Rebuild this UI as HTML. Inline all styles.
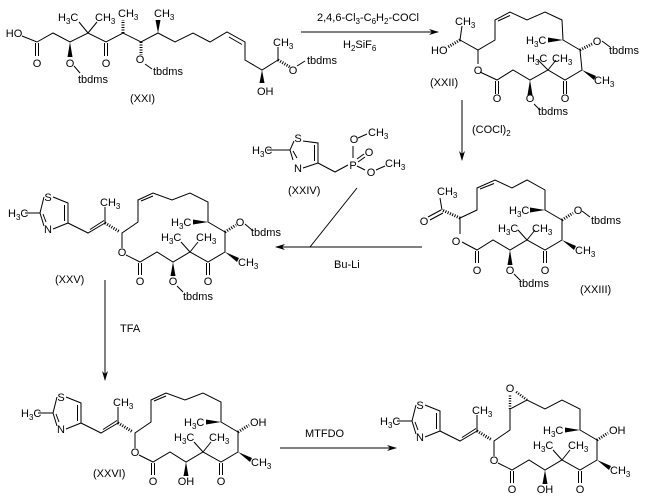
<!DOCTYPE html>
<html><head><meta charset="utf-8"><style>
html,body{margin:0;padding:0;background:#fff;}
svg{display:block;}
text{font-family:"Liberation Sans",Arial,sans-serif;font-size:11px;fill:#000;}
.s{font-size:8px;}
</style></head><body>
<svg width="648" height="501" viewBox="0 0 648 501" xmlns="http://www.w3.org/2000/svg">
<defs>
<marker id="ah" markerWidth="10" markerHeight="6" refX="9" refY="3" orient="auto" markerUnits="userSpaceOnUse"><path d="M0,0 L10,3 L0,6 L3,3 Z" fill="#000"/></marker>
</defs>
<g stroke="#000" stroke-width="1" fill="none">
<polyline points="22,36 37,42 53,33 70,42 88,33 106,42 123,33 141,42 158,33 175,42 193,33 210,42 227,32 245,42 245,60 262,70 278,60"/>
<line x1="229" y1="37" x2="242" y2="44.5"/>
<line x1="35.5" y1="43" x2="35.5" y2="56"/><line x1="38.5" y1="43" x2="38.5" y2="56"/>
<line x1="104.5" y1="43" x2="104.5" y2="56"/><line x1="107.5" y1="43" x2="107.5" y2="56"/>
<line x1="88" y1="33" x2="79" y2="22"/><line x1="88" y1="33" x2="97" y2="22"/>
<line x1="123" y1="33" x2="123" y2="20" stroke-width="3" stroke-dasharray="1,1.5"/>
<line x1="141" y1="42" x2="141" y2="55" stroke-width="3" stroke-dasharray="1,1.5"/>
<line x1="145" y1="64" x2="152" y2="69"/>
<line x1="74" y1="66" x2="80" y2="73"/>
<line x1="278" y1="60" x2="278" y2="47"/>
<line x1="278" y1="60" x2="290" y2="67" stroke-width="3" stroke-dasharray="1,1.5"/>
<line x1="297" y1="66" x2="305" y2="61"/>
<line x1="301" y1="32" x2="438" y2="32" marker-end="url(#ah)"/>
<line x1="460" y1="40" x2="462" y2="26"/>
<line x1="460" y1="40" x2="448" y2="47" stroke-width="3" stroke-dasharray="1,1.5"/>
<polyline points="460,40 478,50 495,40 495,20 510,12 527,20 545,12 562,20 563,40 580,50 582,70 565,80 548,70 530,80 513,70 497,80 480,72"/>
<line x1="478" y1="50" x2="478" y2="64"/>
<line x1="498" y1="21" x2="510" y2="15.5"/>
<line x1="495.5" y1="81" x2="495.5" y2="94"/><line x1="498.5" y1="81" x2="498.5" y2="94"/>
<line x1="563.5" y1="81" x2="563.5" y2="94"/><line x1="566.5" y1="81" x2="566.5" y2="94"/>
<line x1="548" y1="70" x2="538" y2="60"/><line x1="548" y1="70" x2="556" y2="60"/>
<line x1="580" y1="50" x2="592" y2="44" stroke-width="3" stroke-dasharray="1,1.5"/>
<line x1="602" y1="41" x2="610" y2="47"/>
<line x1="534" y1="104" x2="540" y2="110"/>
<line x1="462" y1="100" x2="462" y2="160" marker-end="url(#ah)"/>
<polyline points="460,218 477,210 477,188 495,180 512,188 527,180 545,190 545,210 562,220 562,240 545,250 527,240 510,250 493,240 477,250 462,242"/>
<line x1="460" y1="218" x2="460" y2="234"/>
<line x1="480" y1="189" x2="494" y2="183.5"/>
<line x1="460" y1="218" x2="442" y2="210" stroke-width="3" stroke-dasharray="1,1.5"/>
<line x1="442" y1="210" x2="440" y2="198"/>
<line x1="441" y1="210" x2="428" y2="217"/><line x1="443" y1="213" x2="430" y2="220"/>
<line x1="543.5" y1="251" x2="543.5" y2="263"/><line x1="546.5" y1="251" x2="546.5" y2="263"/>
<line x1="475.5" y1="251" x2="475.5" y2="263"/><line x1="478.5" y1="251" x2="478.5" y2="263"/>
<line x1="527" y1="240" x2="518" y2="230"/><line x1="527" y1="240" x2="535" y2="230"/>
<line x1="562" y1="220" x2="573" y2="213" stroke-width="3" stroke-dasharray="1,1.5"/>
<line x1="582" y1="211" x2="590" y2="217"/>
<line x1="514" y1="274" x2="520" y2="280"/>
<line x1="422" y1="247" x2="276" y2="247" marker-end="url(#ah)"/>
<line x1="310" y1="247" x2="357" y2="188"/>
<polyline points="303,141 318,143 318,163 303,168"/>
<polyline points="294,141 290,150 293,160"/>
<line x1="290" y1="150" x2="267" y2="150"/>
<line x1="293" y1="151" x2="297" y2="158"/>
<line x1="314.5" y1="145" x2="314.5" y2="161"/>
<polyline points="318,163 335,172 348,165"/>
<line x1="353" y1="158" x2="353" y2="146"/>
<line x1="357" y1="159" x2="364" y2="154"/><line x1="358" y1="162" x2="365" y2="157"/>
<line x1="357" y1="166" x2="365" y2="170"/>
<line x1="358" y1="138" x2="367" y2="134"/><line x1="376" y1="170" x2="385" y2="166"/>
<line x1="105" y1="280" x2="105" y2="380" marker-end="url(#ah)"/>
<line x1="280" y1="448" x2="396" y2="448" marker-end="url(#ah)"/>
</g>
<g fill="#000">
<polygon points="70,42 67.5,57 72.5,57"/>
<polygon points="158,33 155.5,20 160.5,20"/>
<polygon points="262,70 259.5,83 264.5,83"/>
<polygon points="530,80 527.5,95 532.5,95"/>
<polygon points="582,70 596,76 594,80"/>
<polygon points="563,40 548,37.5 548,42.5"/>
<polygon points="510,250 507.5,265 512.5,265"/>
<polygon points="562,240 576,246 574,250"/>
<polygon points="545,210 530,207.5 530,212.5"/>
</g>
<text x="14" y="37" text-anchor="middle">HO</text>
<text x="37" y="67" text-anchor="middle">O</text>
<text x="106" y="67" text-anchor="middle">O</text>
<text x="70" y="67" text-anchor="middle">O</text>
<text x="78" y="83">tbdms</text>
<text x="140" y="63" text-anchor="middle">O</text>
<text x="153" y="75">tbdms</text>
<text x="58" y="21">H<tspan class="s" dy="3">3</tspan><tspan dy="-3">C</tspan></text>
<text x="95" y="21">CH<tspan class="s" dy="3">3</tspan></text>
<text x="118" y="17">CH<tspan class="s" dy="3">3</tspan></text>
<text x="154" y="17">CH<tspan class="s" dy="3">3</tspan></text>
<text x="273" y="46">CH<tspan class="s" dy="3">3</tspan></text>
<text x="293" y="74" text-anchor="middle">O</text>
<text x="307" y="64">tbdms</text>
<text x="257" y="95">OH</text>
<text x="130" y="102">(XXI)</text>
<text x="317" y="21">2,4,6-Cl<tspan class="s" dy="3">3</tspan><tspan dy="-3">-C</tspan><tspan class="s" dy="3">6</tspan><tspan dy="-3">H</tspan><tspan class="s" dy="3">2</tspan><tspan dy="-3">-COCl</tspan></text>
<text x="343" y="48">H<tspan class="s" dy="3">2</tspan><tspan dy="-3">SiF</tspan><tspan class="s" dy="3">6</tspan></text>
<text x="455" y="25">CH<tspan class="s" dy="3">3</tspan></text>
<text x="431" y="54">HO</text>
<text x="478" y="74" text-anchor="middle">O</text>
<text x="497" y="102" text-anchor="middle">O</text>
<text x="565" y="102" text-anchor="middle">O</text>
<text x="530" y="102" text-anchor="middle">O</text>
<text x="538" y="115">tbdms</text>
<text x="527" y="62">H<tspan class="s" dy="3">3</tspan><tspan dy="-3">C</tspan></text>
<text x="552" y="62">CH<tspan class="s" dy="3">3</tspan></text>
<text x="526" y="44">H<tspan class="s" dy="3">3</tspan><tspan dy="-3">C</tspan></text>
<text x="597" y="45" text-anchor="middle">O</text>
<text x="609" y="54">tbdms</text>
<text x="594" y="84">CH<tspan class="s" dy="3">3</tspan></text>
<text x="430" y="86">(XXII)</text>
<text x="472" y="133">(COCl)<tspan class="s" dy="3">2</tspan></text>
<text x="437" y="195">CH<tspan class="s" dy="3">3</tspan></text>
<text x="424" y="225" text-anchor="middle">O</text>
<text x="456" y="245" text-anchor="middle">O</text>
<text x="477" y="274" text-anchor="middle">O</text>
<text x="545" y="274" text-anchor="middle">O</text>
<text x="510" y="274" text-anchor="middle">O</text>
<text x="519" y="287">tbdms</text>
<text x="498" y="232">H<tspan class="s" dy="3">3</tspan><tspan dy="-3">C</tspan></text>
<text x="532" y="232">CH<tspan class="s" dy="3">3</tspan></text>
<text x="509" y="214">H<tspan class="s" dy="3">3</tspan><tspan dy="-3">C</tspan></text>
<text x="578" y="214" text-anchor="middle">O</text>
<text x="591" y="224">tbdms</text>
<text x="575" y="254">CH<tspan class="s" dy="3">3</tspan></text>
<text x="580" y="293">(XXIII)</text>
<text x="334" y="268">Bu-Li</text>
<text x="298" y="142" text-anchor="middle">S</text>
<text x="298" y="172" text-anchor="middle">N</text>
<text x="252" y="154">H<tspan class="s" dy="3">3</tspan><tspan dy="-3">C</tspan></text>
<text x="353" y="169" text-anchor="middle">P</text>
<text x="354" y="143" text-anchor="middle">O</text>
<text x="369" y="156" text-anchor="middle">O</text>
<text x="371" y="176" text-anchor="middle">O</text>
<text x="368" y="136">CH<tspan class="s" dy="3">3</tspan></text>
<text x="385" y="167">CH<tspan class="s" dy="3">3</tspan></text>
<text x="288" y="194">(XXIV)</text>
<text x="120" y="332">TFA</text>
<text x="305" y="437">MTFDO</text>

<g>
<g stroke="#000" stroke-width="1" fill="none">
<polyline points="53,197 68,203 68,223 53,229"/>
<polyline points="44,197 40,213 44,226"/>
<line x1="40" y1="213" x2="25" y2="213"/>
<line x1="43" y1="214" x2="46" y2="222"/>
<line x1="64.5" y1="205" x2="64.5" y2="221"/>
<polyline points="68,223 88,233 105,223"/>
<line x1="90" y1="229.5" x2="104" y2="220.5"/>
<line x1="105" y1="223" x2="105" y2="207"/>
<line x1="105" y1="223" x2="120" y2="232" stroke-width="3" stroke-dasharray="1,1.5"/>
<polyline points="122,248 122,233 138,222 138,200 153,193 172,200 190,193 208,202 208,222 225,232 225,252 208,262 190,252 173,262 157,252 140,262 126,255"/>
<line x1="141" y1="201" x2="153" y2="196"/>
<line x1="206.5" y1="263" x2="206.5" y2="275"/><line x1="209.5" y1="263" x2="209.5" y2="275"/>
<line x1="138.5" y1="263" x2="138.5" y2="275"/><line x1="141.5" y1="263" x2="141.5" y2="275"/>
<line x1="190" y1="252" x2="181" y2="242"/><line x1="190" y1="252" x2="198" y2="242"/>
<line x1="225" y1="232" x2="236" y2="225" stroke-width="3" stroke-dasharray="1,1.5"/>
</g>
<g fill="#000">
<polygon points="173,262 170.5,276 175.5,276"/>
<polygon points="225,252 239,258 237,262"/>
<polygon points="208,222 193,219.5 193,224.5"/>
</g>
<text x="48" y="201" text-anchor="middle">S</text>
<text x="48" y="233" text-anchor="middle">N</text>
<text x="8" y="217">H<tspan class="s" dy="3">3</tspan><tspan dy="-3">C</tspan></text>
<text x="100" y="206">CH<tspan class="s" dy="3">3</tspan></text>
<text x="122" y="256" text-anchor="middle">O</text>
<text x="140" y="285" text-anchor="middle">O</text>
<text x="208" y="285" text-anchor="middle">O</text>
<text x="161" y="241">H<tspan class="s" dy="3">3</tspan><tspan dy="-3">C</tspan></text>
<text x="196" y="241">CH<tspan class="s" dy="3">3</tspan></text>
<text x="171" y="226">H<tspan class="s" dy="3">3</tspan><tspan dy="-3">C</tspan></text>
<text x="238" y="266">CH<tspan class="s" dy="3">3</tspan></text>
</g>
<text x="173" y="285" text-anchor="middle">O</text>
<line x1="177" y1="286" x2="183" y2="292" stroke="#000"/>
<text x="183" y="300">tbdms</text>
<text x="240" y="226" text-anchor="middle">O</text>
<line x1="245" y1="224" x2="252" y2="230" stroke="#000"/>
<text x="251" y="236">tbdms</text>
<text x="55" y="283">(XXV)</text>

<g transform="translate(13,200)">
<g stroke="#000" stroke-width="1" fill="none">
<polyline points="53,197 68,203 68,223 53,229"/>
<polyline points="44,197 40,213 44,226"/>
<line x1="40" y1="213" x2="25" y2="213"/>
<line x1="43" y1="214" x2="46" y2="222"/>
<line x1="64.5" y1="205" x2="64.5" y2="221"/>
<polyline points="68,223 88,233 105,223"/>
<line x1="90" y1="229.5" x2="104" y2="220.5"/>
<line x1="105" y1="223" x2="105" y2="207"/>
<line x1="105" y1="223" x2="120" y2="232" stroke-width="3" stroke-dasharray="1,1.5"/>
<polyline points="122,248 122,233 138,222 138,200 153,193 172,200 190,193 208,202 208,222 225,232 225,252 208,262 190,252 173,262 157,252 140,262 126,255"/>
<line x1="141" y1="201" x2="153" y2="196"/>
<line x1="206.5" y1="263" x2="206.5" y2="275"/><line x1="209.5" y1="263" x2="209.5" y2="275"/>
<line x1="138.5" y1="263" x2="138.5" y2="275"/><line x1="141.5" y1="263" x2="141.5" y2="275"/>
<line x1="190" y1="252" x2="181" y2="242"/><line x1="190" y1="252" x2="198" y2="242"/>
<line x1="225" y1="232" x2="236" y2="225" stroke-width="3" stroke-dasharray="1,1.5"/>
</g>
<g fill="#000">
<polygon points="173,262 170.5,276 175.5,276"/>
<polygon points="225,252 239,258 237,262"/>
<polygon points="208,222 193,219.5 193,224.5"/>
</g>
<text x="48" y="201" text-anchor="middle">S</text>
<text x="48" y="233" text-anchor="middle">N</text>
<text x="8" y="217">H<tspan class="s" dy="3">3</tspan><tspan dy="-3">C</tspan></text>
<text x="100" y="206">CH<tspan class="s" dy="3">3</tspan></text>
<text x="122" y="256" text-anchor="middle">O</text>
<text x="140" y="285" text-anchor="middle">O</text>
<text x="208" y="285" text-anchor="middle">O</text>
<text x="161" y="241">H<tspan class="s" dy="3">3</tspan><tspan dy="-3">C</tspan></text>
<text x="196" y="241">CH<tspan class="s" dy="3">3</tspan></text>
<text x="171" y="226">H<tspan class="s" dy="3">3</tspan><tspan dy="-3">C</tspan></text>
<text x="238" y="266">CH<tspan class="s" dy="3">3</tspan></text>
<text x="173" y="285" text-anchor="middle">OH</text>
<text x="237" y="226">OH</text>
<text x="80" y="277">(XXVI)</text>
</g>

<g transform="translate(372,208)">
<g stroke="#000" stroke-width="1" fill="none">
<polyline points="53,197 68,203 68,223 53,229"/>
<polyline points="44,197 40,213 44,226"/>
<line x1="40" y1="213" x2="25" y2="213"/>
<line x1="43" y1="214" x2="46" y2="222"/>
<line x1="64.5" y1="205" x2="64.5" y2="221"/>
<polyline points="68,223 88,233 105,223"/>
<line x1="90" y1="229.5" x2="104" y2="220.5"/>
<line x1="105" y1="223" x2="105" y2="207"/>
<line x1="105" y1="223" x2="120" y2="232" stroke-width="3" stroke-dasharray="1,1.5"/>
<polyline points="122,248 122,233 138,222 138,201 155,192 173,201 190,192 208,201 208,222 225,232 225,252 208,262 190,252 173,262 157,252 140,262 126,255"/>
<line x1="138" y1="201" x2="138" y2="186" stroke-width="2.5" stroke-dasharray="1,1.5"/>
<line x1="155" y1="192" x2="143" y2="183" stroke-width="2.5" stroke-dasharray="1,1.5"/>
<line x1="206.5" y1="263" x2="206.5" y2="275"/><line x1="209.5" y1="263" x2="209.5" y2="275"/>
<line x1="138.5" y1="263" x2="138.5" y2="275"/><line x1="141.5" y1="263" x2="141.5" y2="275"/>
<line x1="190" y1="252" x2="181" y2="242"/><line x1="190" y1="252" x2="198" y2="242"/>
<line x1="225" y1="232" x2="236" y2="225" stroke-width="3" stroke-dasharray="1,1.5"/>
</g>
<g fill="#000">
<polygon points="173,262 170.5,276 175.5,276"/>
<polygon points="225,252 239,258 237,262"/>
<polygon points="208,222 193,219.5 193,224.5"/>
</g>
<text x="48" y="201" text-anchor="middle">S</text>
<text x="48" y="233" text-anchor="middle">N</text>
<text x="8" y="217">H<tspan class="s" dy="3">3</tspan><tspan dy="-3">C</tspan></text>
<text x="100" y="206">CH<tspan class="s" dy="3">3</tspan></text>
<text x="138" y="184" text-anchor="middle">O</text>
<text x="122" y="256" text-anchor="middle">O</text>
<text x="140" y="285" text-anchor="middle">O</text>
<text x="208" y="285" text-anchor="middle">O</text>
<text x="161" y="241">H<tspan class="s" dy="3">3</tspan><tspan dy="-3">C</tspan></text>
<text x="196" y="241">CH<tspan class="s" dy="3">3</tspan></text>
<text x="171" y="226">H<tspan class="s" dy="3">3</tspan><tspan dy="-3">C</tspan></text>
<text x="238" y="266">CH<tspan class="s" dy="3">3</tspan></text>
<text x="173" y="285" text-anchor="middle">OH</text>
<text x="237" y="226">OH</text>
</g>
</svg>
</body></html>
